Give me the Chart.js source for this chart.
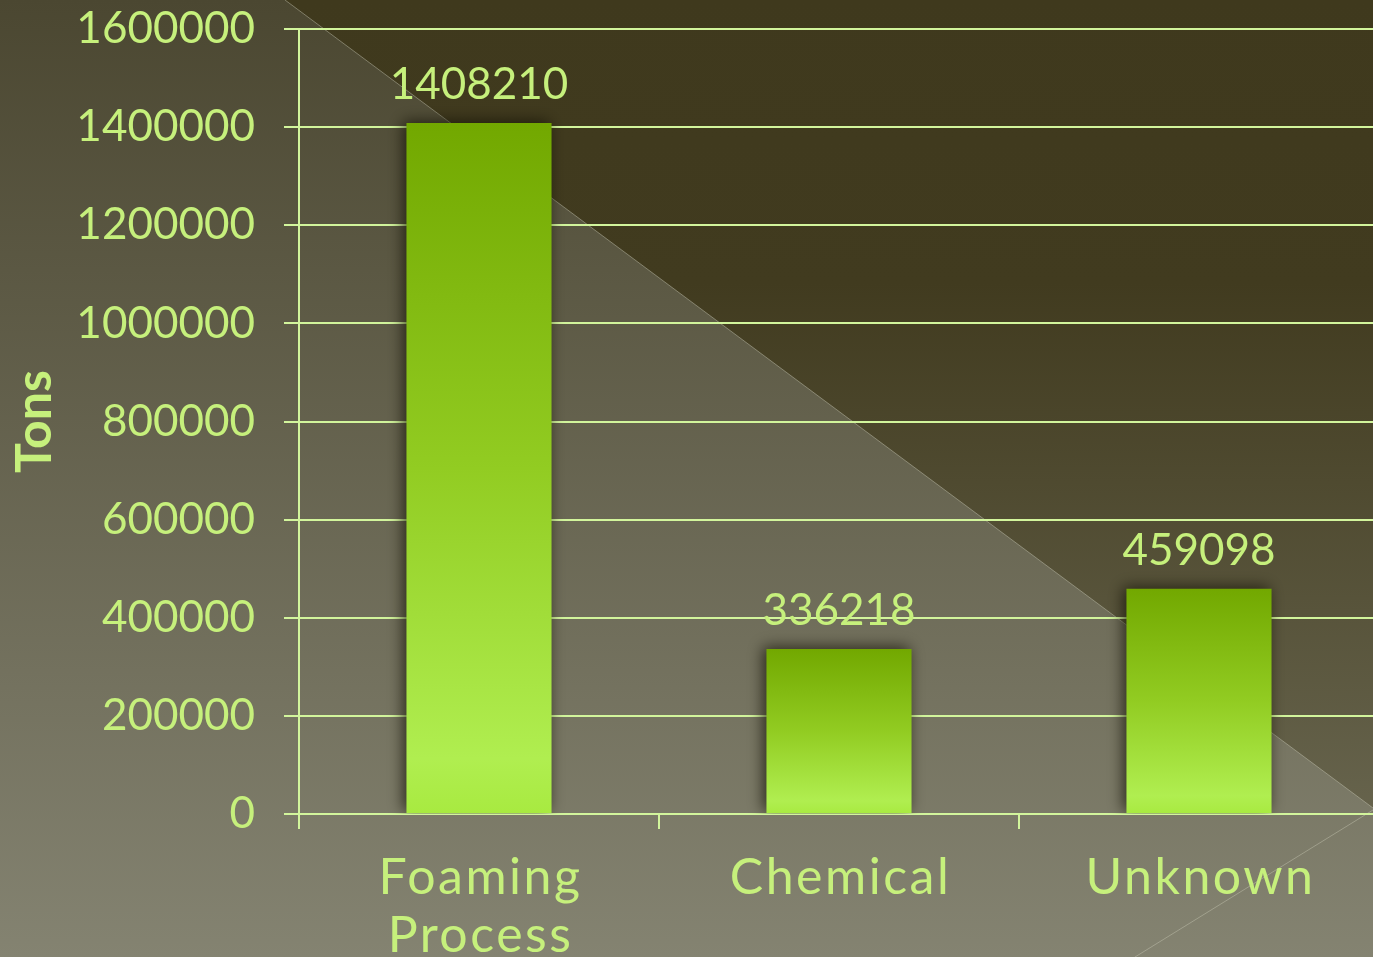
<!DOCTYPE html>
<html>
<head>
<meta charset="utf-8">
<script src="https://cdn.jsdelivr.net/npm/chart.js@4.4.1/dist/chart.umd.min.js"></script>
<style>
  html, body { margin: 0; padding: 0; width: 1373px; height: 957px; overflow: hidden; background: #5e5c45; }
  #wrap { position: absolute; left: 0; top: 0; width: 1380px; height: 957px; }
</style>
</head>
<body>
<div id="wrap"><canvas id="c" width="1380" height="957"></canvas></div>
<script>
const categories = [["Foaming", "Process"], "Chemical", "Unknown"];
const values = [1408210, 336218, 459098];
const yTicks = [0, 200000, 400000, 600000, 800000, 1000000, 1200000, 1400000, 1600000];
const yTitle = "Tons";

const TEXT = "#c6f07c";
const GRID = "#d2f59c";
const FONT = "Lato, 'Open Sans', sans-serif";

const backgroundPlugin = {
  id: "bg",
  beforeDraw(chart) {
    const ctx = chart.ctx;
    const W = chart.width, H = chart.height;
    ctx.save();
    let g = ctx.createLinearGradient(0, 0, 0, H);
    g.addColorStop(0, "#4b4731");
    g.addColorStop(1, "#848371");
    ctx.fillStyle = g;
    ctx.fillRect(0, 0, W, H);
    g = ctx.createLinearGradient(0, 0, 0, 810);
    g.addColorStop(0, "#3f391d");
    g.addColorStop(0.35, "#413b1f");
    g.addColorStop(1, "#66634c");
    ctx.fillStyle = g;
    ctx.beginPath();
    ctx.moveTo(285, 0);
    ctx.lineTo(W, 0);
    ctx.lineTo(W, 812);
    ctx.lineTo(1373, 808);
    ctx.closePath();
    ctx.fill();
    ctx.strokeStyle = "rgba(200,200,180,0.45)";
    ctx.lineWidth = 1;
    ctx.beginPath();
    ctx.moveTo(285, 0);
    ctx.lineTo(1373, 808);
    ctx.moveTo(1373, 810);
    ctx.lineTo(1135, 957);
    ctx.stroke();
    ctx.restore();
  }
};

const labelPlugin = {
  id: "labels",
  beforeDatasetsDraw(chart) {
    const ctx = chart.ctx;
    ctx.save();
    ctx.shadowColor = "rgba(20,18,5,0.75)";
    ctx.shadowBlur = 14;
    ctx.shadowOffsetX = -3;
    ctx.shadowOffsetY = -2;
  },
  afterDatasetsDraw(chart) {
    chart.ctx.restore();
    const ctx = chart.ctx;
    const meta = chart.getDatasetMeta(0);
    ctx.save();
    ctx.fillStyle = TEXT;
    ctx.font = "44px " + FONT;
    ctx.textAlign = "center";
    ctx.textBaseline = "middle";
    meta.data.forEach((bar, i) => {
      ctx.fillText(String(values[i]), bar.x, bar.y - 38);
    });
    const xs = chart.scales.x;
    ctx.font = "50px " + FONT;
    ctx.textBaseline = "alphabetic";
    if ('letterSpacing' in ctx) ctx.letterSpacing = "2.5px";
    categories.forEach((lab, i) => {
      const lines = Array.isArray(lab) ? lab : [lab];
      const x = xs.getPixelForTick(i);
      lines.forEach((ln, j) => ctx.fillText(ln, x + 1.5, 894 + j * 58));
    });
    ctx.restore();
  }
};

const ctx = document.getElementById("c").getContext("2d");
new Chart(ctx, {
  type: "bar",
  data: {
    labels: categories,
    datasets: [{
      data: values,
      barPercentage: 0.403,
      categoryPercentage: 1.0,
      borderWidth: 0,
      backgroundColor: (c) => {
        const chart = c.chart;
        const area = chart.chartArea;
        if (!area || c.dataIndex === undefined) return "#90c820";
        const yTop = chart.scales.y.getPixelForValue(values[c.dataIndex]);
        const yBot = chart.scales.y.getPixelForValue(0);
        const g = chart.ctx.createLinearGradient(0, yTop, 0, yBot);
        g.addColorStop(0, "#72a800");
        g.addColorStop(0.5, "#92cc22");
        g.addColorStop(0.92, "#b0ee50");
        g.addColorStop(1, "#a8ea40");
        return g;
      }
    }]
  },
  options: {
    responsive: false,
    animation: false,
    devicePixelRatio: 1,
    layout: { padding: { top: 29, right: 1, left: 0, bottom: 0 } },
    plugins: { legend: { display: false }, tooltip: { enabled: false } },
    scales: {
      x: {
        offset: true,
        grid: { display: true, drawOnChartArea: false, drawTicks: true, tickLength: 15, color: GRID, lineWidth: 2, offset: true },
        border: { display: false },
        ticks: { display: false },
        afterFit(scale) { scale.height = 957 - 814; scale.paddingLeft = 0; scale.paddingRight = 0; }
      },
      y: {
        min: 0,
        max: 1600000,
        afterBuildTicks(scale) { scale.ticks = yTicks.map(v => ({ value: v })); },
        grid: { color: GRID, lineWidth: 2, tickLength: 15, drawTicks: true },
        border: { display: true, color: GRID, width: 2 },
        ticks: { color: TEXT, font: { family: FONT, size: 44 }, padding: 29, callback: (v) => String(v) },
        title: { display: true, text: yTitle, color: TEXT, font: { family: FONT, size: 50, weight: "bold" }, padding: { top: 5, bottom: 0 } },
        afterFit(scale) { scale.width = 299; scale.paddingTop = 0; scale.paddingBottom = 0; }
      }
    }
  },
  plugins: [backgroundPlugin, labelPlugin]
});
</script>
</body>
</html>
